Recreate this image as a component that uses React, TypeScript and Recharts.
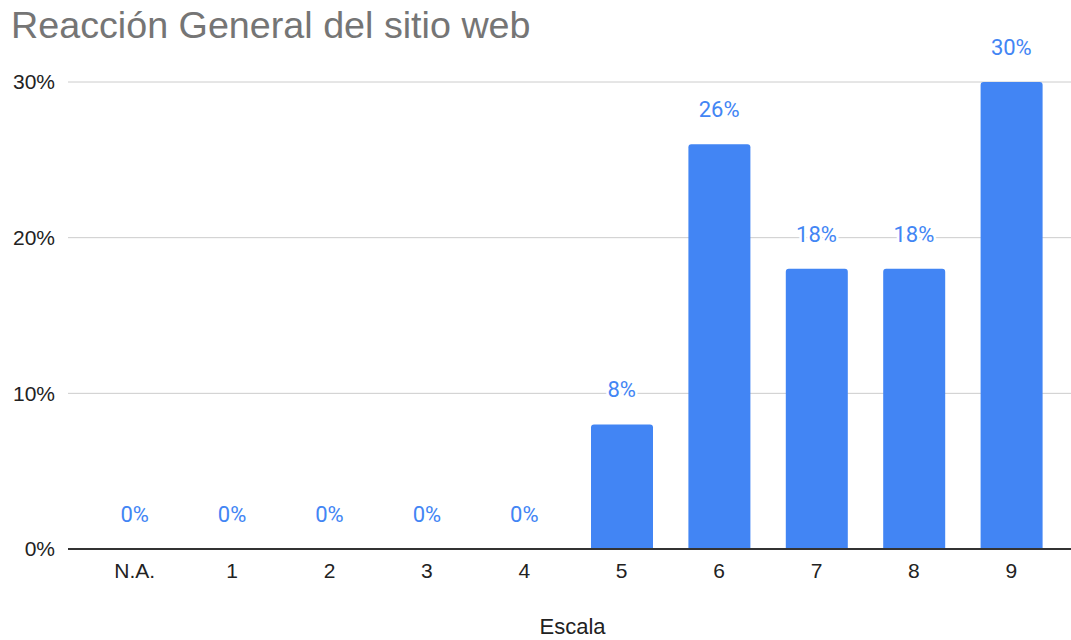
import { ComposedChart, Bar, Line, XAxis, YAxis, CartesianGrid, LabelList } from "recharts";

const categories = ["N.A.", "1", "2", "3", "4", "5", "6", "7", "8", "9"];
const values = [0, 0, 0, 0, 0, 0.08, 0.26, 0.18, 0.18, 0.3];
const yTicks = [0, 0.1, 0.2, 0.3];

const BLUE = "#4285f4";
const AXIS_FONT = "'Liberation Sans', Arial, sans-serif";

const pct = (v: number) => `${Math.round(v * 100)}%`;

const data = categories.map((c, i) => ({ name: c, value: values[i] }));

// labels sit on an invisible line so the 0% bars still get one
function TopLabel(props: any) {
  const { x, y, value } = props;
  return (
    <text
      x={x}
      y={y - 27}
      textAnchor="middle"
      fill={BLUE}
      fontSize={22}
      fontFamily="Roboto, sans-serif"
      stroke="#fff"
      strokeWidth={5}
      paintOrder="stroke"
    >
      {pct(value)}
    </text>
  );
}

export default function App() {
  return (
    <div style={{ position: "absolute", left: 0, top: 0, width: 1071, height: 640, background: "#fff" }}>
      <div
        style={{
          position: "absolute",
          left: 11,
          top: 4,
          fontFamily: AXIS_FONT,
          fontSize: 37.7,
          color: "#757575",
          whiteSpace: "nowrap",
        }}
      >
        Reacción General del sitio web
      </div>
      <ComposedChart
        width={1071}
        height={640}
        data={data}
        margin={{ top: 82, right: 0, bottom: 0, left: 0 }}
      >
        <CartesianGrid vertical={false} stroke="#cccccc" />
        <XAxis
          dataKey="name"
          height={91}
          padding={{ left: 18, right: 11 }}
          axisLine={{ stroke: "#333", strokeWidth: 2 }}
          tickLine={false}
          tickSize={0}
          tickMargin={14}
          tick={{ fill: "#222", fontSize: 21, fontFamily: AXIS_FONT }}
          label={{
            value: "Escala",
            position: "insideBottom",
            offset: 6,
            dx: 3,
            fill: "#222",
            fontSize: 22,
            fontFamily: AXIS_FONT,
          }}
        />
        <YAxis
          width={68}
          domain={[0, 0.3]}
          ticks={yTicks}
          tickFormatter={pct}
          axisLine={false}
          tickLine={false}
          tickSize={0}
          tickMargin={13}
          tick={{ fill: "#222", fontSize: 21, fontFamily: AXIS_FONT }}
        />
        <Bar dataKey="value" fill={BLUE} barSize={62} radius={[3, 3, 0, 0]} isAnimationActive={false} />
        <Line dataKey="value" stroke="none" dot={false} activeDot={false} isAnimationActive={false}>
          <LabelList dataKey="value" content={<TopLabel />} />
        </Line>
      </ComposedChart>
    </div>
  );
}
